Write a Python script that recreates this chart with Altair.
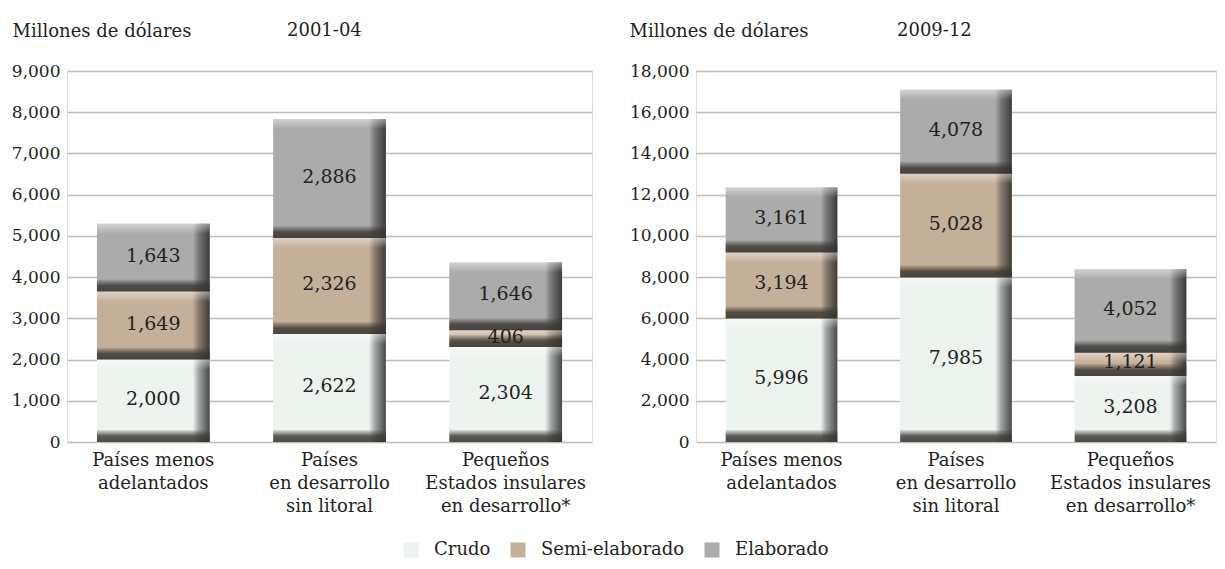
import altair as alt
import pandas as pd

FONT = "DejaVu Serif"
TXT = "#231F20"

categories = ["Países menos|adelantados", "Países|en desarrollo|sin litoral", "Pequeños|Estados insulares|en desarrollo*"]
series = ["Crudo", "Semi-elaborado", "Elaborado"]
series_colors = ["#EDF3EF", "#C4AF98", "#ABABAB"]

crudo_0104 = [2000, 2622, 2304]
semi_0104 = [1649, 2326, 406]
elab_0104 = [1643, 2886, 1646]

crudo_0912 = [5996, 7985, 3208]
semi_0912 = [3194, 5028, 1121]
elab_0912 = [3161, 4078, 4052]

ticks_0104 = [0, 1000, 2000, 3000, 4000, 5000, 6000, 7000, 8000, 9000]
ticks_0912 = [0, 2000, 4000, 6000, 8000, 10000, 12000, 14000, 16000, 18000]

color_scale = alt.Scale(domain=series, range=series_colors)


def make_df(cr, se, el):
    rows = []
    for i, c in enumerate(categories):
        for k, (s, v) in enumerate(zip(series, [cr[i], se[i], el[i]])):
            rows.append({"cat": c, "serie": s, "ord": k, "value": v})
    return pd.DataFrame(rows)


def grad(stops, horizontal):
    return alt.LinearGradient(
        gradient="linear",
        stops=[alt.GradientStop(offset=o, color=c) for o, c in stops],
        x1=0, x2=1 if horizontal else 0, y1=0, y2=0 if horizontal else 1,
    )


def panel(df, ticks, period, title_x, period_x, width):
    ymax = ticks[-1]
    base = alt.Chart(df).transform_stack(
        stack="value", groupby=["cat"], as_=["y0", "y1"], sort=[alt.SortField("ord")]
    ).transform_calculate(mid="(datum.y0 + datum.y1) / 2")

    xenc = alt.X(
        "cat:N", sort=categories, title=None,
        scale=alt.Scale(paddingInner=0.36, paddingOuter=0.17),
        axis=alt.Axis(labelExpr="split(datum.label, '|')", labelAngle=0, labelFontSize=18,
                      labelLineHeight=23, labelPadding=9, ticks=False, domain=False,
                      labelColor=TXT, labelFont=FONT),
    )
    yscale = alt.Scale(domain=[0, ymax], nice=False)
    yaxis = alt.Axis(
        values=ticks, labelExpr="format(datum.value, ',')", labelFontSize=17, labelPadding=7,
        ticks=False, domain=False,
        gridColor="#BDBDBD", gridWidth=1.6, labelColor=TXT, labelFont=FONT,
        title="Millones de dólares", titleAngle=0, titleAlign="left", titleBaseline="alphabetic",
        titleX=title_x, titleY=-35, titleFontSize=18, titleFontWeight="normal", titleColor=TXT,
        titleFont=FONT,
    )

    face = base.mark_bar().encode(
        x=xenc,
        y=alt.Y("y0:Q", scale=yscale, axis=yaxis),
        y2="y1:Q",
        color=alt.Color("serie:N", scale=color_scale, legend=None),
    )
    right_shade = base.mark_bar(
        color=grad([(0, "rgba(30,30,30,0)"), (0.85, "rgba(30,30,30,0)"), (0.9, "rgba(30,30,30,0.35)"), (1, "rgba(30,30,30,0.8)")], True)
    ).encode(x=alt.X("cat:N", sort=categories), y="y0:Q", y2="y1:Q")
    top_light = base.mark_bar(
        yOffset=0, y2Offset=10,
        color=grad([(0, "rgba(255,255,255,0.45)"), (1, "rgba(255,255,255,0)")], False),
    ).encode(x=alt.X("cat:N", sort=categories), y="y1:Q", y2="y1:Q")
    bottom_dark = base.mark_bar(
        yOffset=-12,
        color=grad([(0, "rgba(55,52,48,0.1)"), (0.5, "rgba(55,52,48,0.8)"), (1, "rgba(55,52,48,0.88)")], False),
    ).encode(x=alt.X("cat:N", sort=categories), y="y0:Q", y2="y0:Q")
    labels = base.mark_text(fontSize=19, font=FONT, color=TXT, dy=-2).encode(
        x=alt.X("cat:N", sort=categories), y="mid:Q", text=alt.Text("value:Q", format=",")
    )
    ptxt = alt.Chart(pd.DataFrame({"t": [period]})).mark_text(
        align="left", baseline="alphabetic", fontSize=18, font=FONT, color=TXT
    ).encode(x=alt.value(period_x), y=alt.value(-35), text="t:N")

    return alt.layer(face, right_shade, top_light, bottom_dark, labels, ptxt).properties(
        width=width, height=371
    )


left = panel(make_df(crudo_0104, semi_0104, elab_0104), ticks_0104, "2001-04", -55, 220, 525)
right = panel(make_df(crudo_0912, semi_0912, elab_0912), ticks_0912, "2009-12", -67, 201, 520)

legend_chart = alt.Chart(pd.DataFrame({"serie": series})).mark_square(opacity=0).encode(
    color=alt.Color(
        "serie:N", scale=color_scale,
        legend=alt.Legend(
            orient="none", direction="horizontal", legendX=335, legendY=18, title=None,
            symbolType="square", symbolSize=225, symbolStrokeWidth=0, symbolOpacity=1,
            labelFontSize=18, labelFont=FONT, labelColor=TXT, columnPadding=18, labelOffset=14,
        ),
    )
).properties(width=1, height=1)

top = alt.hconcat(left, right, spacing=35)
chart = alt.vconcat(top, legend_chart, spacing=4).resolve_scale(color="independent").properties(
    padding={"left": 2, "top": 13, "right": 0, "bottom": 0}
).configure_view(stroke=None).configure(font=FONT)

chart.save("out.html", embed_options={"renderer": "svg", "actions": False})
